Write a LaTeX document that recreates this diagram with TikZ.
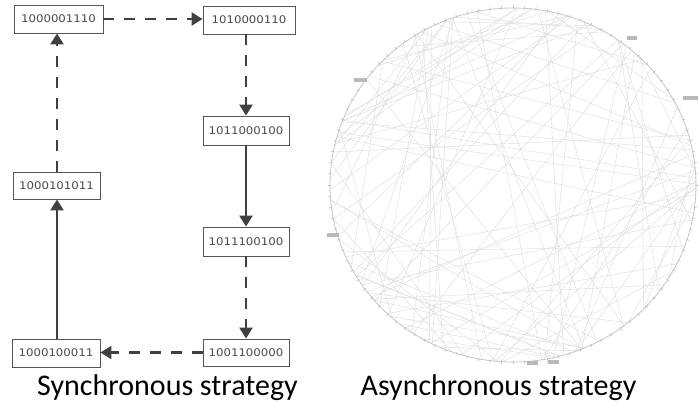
\documentclass[tikz,border=0pt]{standalone}
\usepackage{fontspec}
\setmainfont{Carlito}
\newfontfamily\boxfont[FakeStretch=1.12]{DejaVu Sans}
\usetikzlibrary{arrows.meta}
\definecolor{linec}{HTML}{404040}
\definecolor{boxc}{HTML}{555555}
\definecolor{textc}{HTML}{4A4A4A}
\tikzset{
  statebox/.style={draw=boxc, line width=0.9pt, fill=white, inner sep=0pt,
    minimum height=28pt, text=textc, font=\boxfont\fontsize{10.5}{10.5}\selectfont},
  conn/.style={draw=linec, line width=2.5pt, -{Triangle[length=11pt,width=13pt]}},
  dconn/.style={conn, dash pattern=on 11pt off 10pt},
  chord/.style={draw=gray!24, line width=0.5pt},
  rimtick/.style={draw=gray!50, line width=0.7pt},
  tinylabel/.style={fill=gray!55, inner sep=0pt, minimum height=4pt},
  caption/.style={font=\fontsize{30}{30}\selectfont, anchor=base}
}
\begin{document}
\begin{tikzpicture}[x=1pt,y=-1pt]
\useasboundingbox (0,0) rectangle (699,404);
% ---------- synchronous graph
\node[statebox, minimum width=89pt] (A) at (58.5,19) {1000001110};
\node[statebox, minimum width=92pt] (B) at (249,20) {1010000110};
\node[statebox, minimum width=86pt, minimum height=29pt] (C) at (246,130.5) {1011000100};
\node[statebox, minimum width=86pt, minimum height=29pt] (D) at (246,241.5) {1011100100};
\node[statebox, minimum width=86pt, minimum height=27pt] (E) at (246,352.5) {1001100000};
\node[statebox, minimum width=88pt] (F) at (56,353) {1000100011};
\node[statebox, minimum width=87pt, minimum height=27pt] (G) at (56.5,185.5) {1000101011};
\draw[dconn] (A.east) -- (A.east -| B.west);
\draw[dconn] (B.south -| C.north) -- (C.north);
\draw[conn] (C.south) -- (D.north);
\draw[dconn] (D.south) -- (E.north);
\draw[dconn] (E.west) -- (E.west -| F.east);
\draw[conn] (F.north -| 57,0) -- (G.south -| 57,0);
\draw[dconn] (G.north -| 57,0) -- (A.south -| 57,0);
% ---------- asynchronous graph
\begin{scope}
  \pgfmathsetseed{11}
  \foreach \i in {1,...,95}{
    \pgfmathsetmacro\aa{rnd*360}
    \pgfmathsetmacro\bb{\aa+40+rnd*140}
    \draw[chord] ({513+183*cos(\aa)},{185-177*sin(\aa)}) -- ({513+183*cos(\bb)},{185-177*sin(\bb)});
  }
  \draw[draw=gray!45, line width=0.8pt] (513,185) ellipse [x radius=183, y radius=177];
  \foreach \t in {0,3.6,...,356.4}{
    \draw[rimtick] ({513+182*cos(\t)},{185-176*sin(\t)}) -- ({513+185*cos(\t)},{185-179*sin(\t)});
  }
  \node[tinylabel, minimum width=10pt] (l1) at (632,38) {};
  \node[tinylabel, minimum width=13pt] (l2) at (360,80) {};
  \node[tinylabel, minimum width=15pt] (l3) at (690,98) {};
  \node[tinylabel, minimum width=12pt] (l4) at (333,235) {};
  \node[tinylabel, minimum width=11pt] (l5) at (532,363) {};
  \node[tinylabel, minimum width=11pt] (l6) at (553,362) {};
\end{scope}
% ---------- captions
\node[caption] (s1) at (167.5,395) {Synchronous strategy};
\node[caption] (s2) at (498.5,395) {Asynchronous strategy};
\end{tikzpicture}
\end{document}
